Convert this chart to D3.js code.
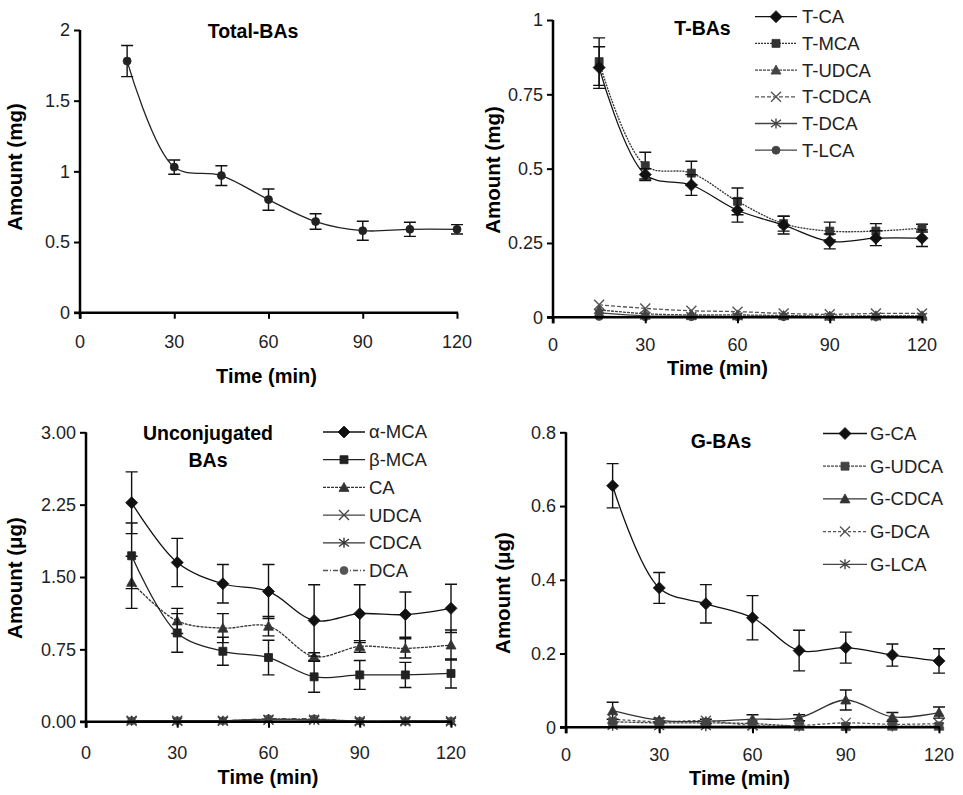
<!DOCTYPE html>
<html><head><meta charset="utf-8">
<script src="https://cdn.jsdelivr.net/npm/d3@7"></script>
<style>
html,body{margin:0;padding:0;background:#fff;}
svg{display:block;font-family:"Liberation Sans",Arial,sans-serif;}
</style></head><body>
<svg id="chart" width="963" height="795"></svg>
<script>
// ---------------- DATA ----------------
const times = [15, 30, 45, 60, 75, 90, 105, 120];
const xTicks = [0, 30, 60, 90, 120];

// Panel A: Total-BAs (mg)
const totalBAs    = [1.78, 1.03, 0.97, 0.80, 0.645, 0.58, 0.59, 0.59];
const totalBAsErr = [0.11, 0.05, 0.07, 0.075, 0.055, 0.067, 0.05, 0.033];
const yTicksA = [0, 0.5, 1, 1.5, 2];
const yTickLabelsA = ["0", "0.5", "1", "1.5", "2"];

// Panel B: T-BAs (mg)
const tCA     = [0.84, 0.48, 0.445, 0.36, 0.31, 0.255, 0.266, 0.266];
const tCAErr  = [0.07, 0.02, 0.035, 0.04, 0.03, 0.025, 0.025, 0.028];
const tMCA    = [0.86, 0.51, 0.485, 0.39, 0.315, 0.29, 0.29, 0.30];
const tMCAErr = [0.08, 0.045, 0.04, 0.045, 0.025, 0.03, 0.025, 0.013];
const tUDCA   = [0.025, 0.012, 0.008, 0.008, 0.006, 0.004, 0.005, 0.005];
const tCDCA   = [0.042, 0.030, 0.022, 0.019, 0.013, 0.010, 0.013, 0.013];
const tDCA    = [0.015, 0.005, 0.004, 0.003, 0.004, 0.002, 0.003, 0.002];
const tLCA    = [0.003, 0.002, 0.002, 0.002, 0.002, 0.002, 0.002, 0.002];
const yTicksB = [0, 0.25, 0.5, 0.75, 1];
const yTickLabelsB = ["0", "0.25", "0.5", "0.75", "1"];

// Panel C: Unconjugated BAs (µg)
const aMCA    = [2.27, 1.65, 1.43, 1.35, 1.05, 1.12, 1.11, 1.175];
const aMCAErr = [0.32, 0.25, 0.2, 0.28, 0.37, 0.3, 0.235, 0.25];
const bMCA    = [1.72, 0.92, 0.73, 0.665, 0.465, 0.485, 0.485, 0.50];
const bMCAErr = [0.34, 0.2, 0.145, 0.18, 0.16, 0.15, 0.13, 0.15];
const uCA     = [1.445, 1.045, 0.97, 0.99, 0.675, 0.78, 0.76, 0.795];
const uCAErr  = [0.27, 0.13, 0.15, 0.1, 0.04, 0.06, 0.1, 0.155];
const uUDCA   = [0.01, 0.01, 0.01, 0.02, 0.02, 0.005, 0.005, 0.005];
const uCDCA   = [0.01, 0.005, 0.01, 0.025, 0.02, 0.003, 0.005, 0.003];
const uDCA    = [0.01, 0.01, 0.01, 0.03, 0.03, 0.005, 0.005, 0.005];
const yTicksC = [0, 0.75, 1.5, 2.25, 3];
const yTickLabelsC = ["0.00", "0.75", "1.50", "2.25", "3.00"];

// Panel D: G-BAs (µg)
const gCA      = [0.655, 0.378, 0.335, 0.297, 0.208, 0.216, 0.196, 0.18];
const gCAErr   = [0.06, 0.042, 0.052, 0.06, 0.055, 0.042, 0.03, 0.033];
const gUDCA    = [0.015, 0.012, 0.012, 0.010, 0.003, 0.002, 0.003, 0.003];
const gCDCA    = [0.045, 0.019, 0.016, 0.022, 0.026, 0.074, 0.028, 0.040];
const gCDCAErr = [0.023, 0.006, 0.006, 0.012, 0.008, 0.027, 0.012, 0.015];
const gDCA     = [0.022, 0.015, 0.018, 0.005, 0.005, 0.012, 0.008, 0.010];
const gLCA     = [0.004, 0.003, 0.003, 0.003, 0.002, 0.002, 0.002, 0.002];
const yTicksD = [0, 0.2, 0.4, 0.6, 0.8];
const yTickLabelsD = ["0", "0.2", "0.4", "0.6", "0.8"];

// ---------------- MARKERS ----------------
function markerPath(type, s) {
  const h = s / 2;
  switch (type) {
    case "diamond": return `M0,${-h}L${h},0L0,${h}L${-h},0Z`;
    case "square": return `M${-h*0.8},${-h*0.8}H${h*0.8}V${h*0.8}H${-h*0.8}Z`;
    case "triangle": return `M0,${-h}L${h},${h*0.8}L${-h},${h*0.8}Z`;
    case "x": return `M${-h},${-h}L${h},${h}M${-h},${h}L${h},${-h}`;
    case "star": return `M${-h},${-h*0.75}L${h},${h*0.75}M${-h},${h*0.75}L${h},${-h*0.75}M0,${-h}V${h}`;
    case "circle": { const r = h*0.8; return `M${r},0A${r},${r},0,1,1,${-r},0A${r},${r},0,1,1,${r},0Z`; }
  }
}
const openMarkers = new Set(["x", "star"]);
const markerSize = { diamond: 12, square: 10, triangle: 10, x: 10, star: 10, circle: 10 };

// ---------------- PANELS ----------------
const panels = [
  { x0: 80, x1: 457, yb: 312.7, yt: 30, ymax: 2, yTicks: yTicksA, yLabels: yTickLabelsA,
    yTitle: "Amount (mg)", yTitleX: 15, yTitleY: 167, title: ["Total-BAs"], titleX: 253, titleY: 31.5,
    xLabelY: 342, xTitleX: 266.5, xTitleY: 376,
    series: [{ name: null, v: totalBAs, e: totalBAsErr, m: "circle", dash: null, col: "#222" }],
    legend: null },
  { x0: 553, x1: 922, yb: 317.3, yt: 20, ymax: 1, yTicks: yTicksB, yLabels: yTickLabelsB,
    yTitle: "Amount (mg)", yTitleX: 493, yTitleY: 170, title: ["T-BAs"], titleX: 702.5, titleY: 28,
    xLabelY: 345, xTitleX: 717.5, xTitleY: 368,
    series: [
      { name: "T-CA",   v: tCA,   e: tCAErr,  m: "diamond",  dash: null,  col: "#111" },
      { name: "T-MCA",  v: tMCA,  e: tMCAErr, m: "square",   dash: "2,1", col: "#333" },
      { name: "T-UDCA", v: tUDCA, e: null,    m: "triangle", dash: "3,1", col: "#444" },
      { name: "T-CDCA", v: tCDCA, e: null,    m: "x",        dash: "4,2", col: "#555" },
      { name: "T-DCA",  v: tDCA,  e: null,    m: "star",     dash: null,  col: "#444" },
      { name: "T-LCA",  v: tLCA,  e: null,    m: "circle",   dash: null,  col: "#444" }
    ],
    legend: { lx0: 755, lx1: 797, tx: 802, y0: 16.7, dy: 26.7 } },
  { x0: 86, x1: 451, yb: 721.7, yt: 432.3, ymax: 3, yTicks: yTicksC, yLabels: yTickLabelsC,
    yTitle: "Amount (\u03bcg)", yTitleX: 15, yTitleY: 578, title: ["Unconjugated", "BAs"], titleX: 208, titleY: 433.5,
    xLabelY: 753, xTitleX: 268, xTitleY: 777,
    series: [
      { name: "\u03b1-MCA", v: aMCA,  e: aMCAErr, m: "diamond",  dash: null,    col: "#111" },
      { name: "\u03b2-MCA", v: bMCA,  e: bMCAErr, m: "square",   dash: null,    col: "#222" },
      { name: "CA",         v: uCA,   e: uCAErr,  m: "triangle", dash: "3,1",   col: "#333" },
      { name: "UDCA",       v: uUDCA, e: null,    m: "x",        dash: null,    col: "#444" },
      { name: "CDCA",       v: uCDCA, e: null,    m: "star",     dash: null,    col: "#333" },
      { name: "DCA",        v: uDCA,  e: null,    m: "circle",   dash: "5,2,1,2", col: "#555" }
    ],
    legend: { lx0: 323, lx1: 365, tx: 369, y0: 432, dy: 27.7 } },
  { x0: 566, x1: 939, yb: 727.3, yt: 432.3, ymax: 0.8, yTicks: yTicksD, yLabels: yTickLabelsD,
    yTitle: "Amount (\u03bcg)", yTitleX: 503, yTitleY: 593, title: ["G-BAs"], titleX: 721, titleY: 441,
    xLabelY: 755, xTitleX: 739.5, xTitleY: 777.5,
    series: [
      { name: "G-CA",   v: gCA,   e: gCAErr,   m: "diamond",  dash: null,  col: "#111" },
      { name: "G-UDCA", v: gUDCA, e: null,     m: "square",   dash: "3,1", col: "#444" },
      { name: "G-CDCA", v: gCDCA, e: gCDCAErr, m: "triangle", dash: null,  col: "#333" },
      { name: "G-DCA",  v: gDCA,  e: null,     m: "x",        dash: "3,2", col: "#555" },
      { name: "G-LCA",  v: gLCA,  e: null,     m: "star",     dash: null,  col: "#444" }
    ],
    legend: { lx0: 823, lx1: 867, tx: 870, y0: 433.5, dy: 32.7 } }
];

const svg = d3.select("#chart");

panels.forEach(p => {
  const g = svg.append("g");
  const x = d3.scaleLinear().domain([0, 120]).range([p.x0, p.x1]);
  const y = d3.scaleLinear().domain([0, p.ymax]).range([p.yb, p.yt]);

  const order = p.series.slice().reverse();
  order.forEach(s => {
    const pts = times.map((t, i) => [x(t), y(s.v[i])]);
    const line = d3.line().curve(d3.curveCatmullRom.alpha(0.5));
    g.append("path").attr("d", line(pts)).attr("fill", "none")
      .attr("stroke", s.col).attr("stroke-width", 1.3)
      .attr("stroke-dasharray", s.dash);
    if (s.e) {
      times.forEach((t, i) => {
        const cx = x(t), top = y(s.v[i] + s.e[i]), bot = y(Math.max(0, s.v[i] - s.e[i]));
        g.append("path")
          .attr("d", `M${cx},${top}V${bot}M${cx-6},${top}H${cx+6}M${cx-6},${bot}H${cx+6}`)
          .attr("stroke", "#111").attr("stroke-width", 1.4).attr("fill", "none");
      });
    }
    times.forEach((t, i) => {
      const open = openMarkers.has(s.m);
      g.append("path").attr("d", markerPath(s.m, markerSize[s.m]))
        .attr("transform", `translate(${x(t)},${y(s.v[i])})`)
        .attr("fill", open ? "none" : s.col)
        .attr("stroke", s.col).attr("stroke-width", open ? 1.4 : 0.8);
    });
  });

  // axes
  const yAxis = d3.axisLeft(y).tickValues(p.yTicks).tickFormat((d, i) => p.yLabels[i]).tickSize(6).tickPadding(4);
  const ya = g.append("g").attr("transform", `translate(${p.x0},0)`).call(yAxis);
  ya.select(".domain").remove();
  ya.selectAll(".tick line").attr("stroke", "#000").attr("stroke-width", 2);
  ya.selectAll(".tick text").attr("font-size", 18).attr("fill", "#222")
    .attr("font-family", "'Liberation Sans', Arial, sans-serif");
  g.append("line").attr("x1", p.x0).attr("x2", p.x0).attr("y1", p.yt).attr("y2", p.yb + 6)
    .attr("stroke", "#000").attr("stroke-width", 2.5);

  const xAxis = d3.axisBottom(x).tickValues(xTicks).tickSize(6).tickFormat(d3.format("d"));
  const xa = g.append("g").attr("transform", `translate(0,${p.yb})`).call(xAxis);
  xa.select(".domain").remove();
  xa.selectAll(".tick line").attr("stroke", "#000").attr("stroke-width", 2);
  xa.selectAll(".tick text").remove();
  g.append("line").attr("x1", p.x0 - 6).attr("x2", p.x1 + 1).attr("y1", p.yb).attr("y2", p.yb)
    .attr("stroke", "#000").attr("stroke-width", 2.5);
  g.selectAll(".xl").data(xTicks).enter().append("text")
    .attr("x", d => x(d)).attr("y", p.xLabelY).attr("dy", "0.35em")
    .attr("text-anchor", "middle").attr("font-size", 18).attr("fill", "#222").text(d => d);

  // titles
  g.append("text").attr("x", p.xTitleX).attr("y", p.xTitleY).attr("dy", "0.35em")
    .attr("text-anchor", "middle").attr("font-size", 20).attr("font-weight", "bold").text("Time (min)");
  g.append("text").attr("transform", `translate(${p.yTitleX},${p.yTitleY}) rotate(-90)`)
    .attr("dy", "0.35em").attr("text-anchor", "middle").attr("font-size", 20.5)
    .attr("font-weight", "bold").text(p.yTitle);
  p.title.forEach((t, i) => {
    g.append("text").attr("x", p.titleX).attr("y", p.titleY + i * 27).attr("dy", "0.35em")
      .attr("text-anchor", "middle").attr("font-size", 19.5).attr("font-weight", "bold").text(t);
  });

  // legend
  if (p.legend) {
    const L = p.legend;
    p.series.forEach((s, i) => {
      const ly = L.y0 + i * L.dy;
      g.append("line").attr("x1", L.lx0).attr("x2", L.lx1).attr("y1", ly).attr("y2", ly)
        .attr("stroke", s.col).attr("stroke-width", 1.3).attr("stroke-dasharray", s.dash);
      const open = openMarkers.has(s.m);
      g.append("path").attr("d", markerPath(s.m, markerSize[s.m]))
        .attr("transform", `translate(${(L.lx0 + L.lx1) / 2},${ly})`)
        .attr("fill", open ? "none" : s.col).attr("stroke", s.col).attr("stroke-width", open ? 1.4 : 0.8);
      g.append("text").attr("x", L.tx).attr("y", ly).attr("dy", "0.35em")
        .attr("font-size", 18.5).attr("fill", "#222").text(s.name);
    });
  }
});
</script>
</body></html>
